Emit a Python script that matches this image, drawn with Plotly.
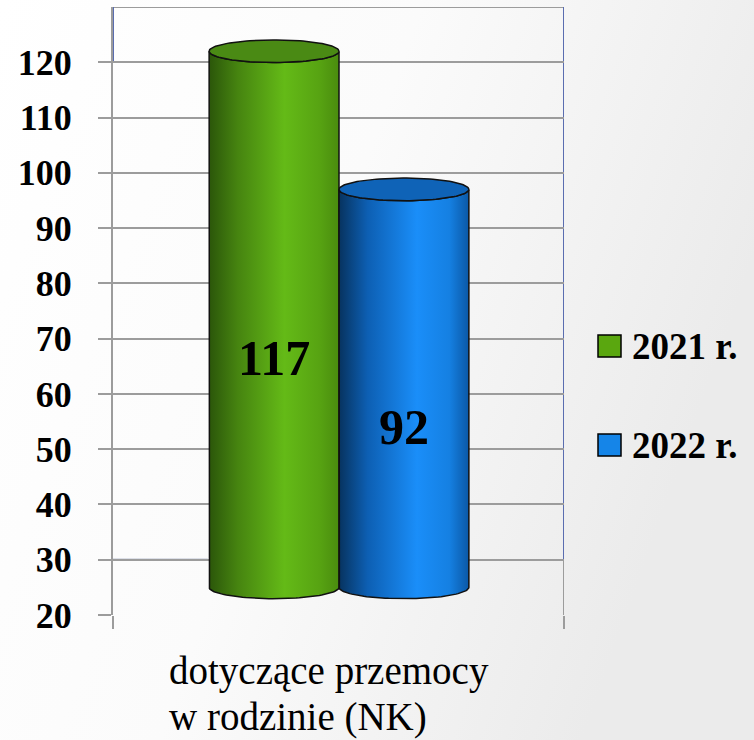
import base64
import numpy as np
import plotly.graph_objects as go

# ---------------- data ----------------
CATEGORY = ["dotyczące przemocy", "w rodzinie (NK)"]
SERIES = ["2021 r.", "2022 r."]
VALUES = [117, 92]
Y_TICKS = [20, 30, 40, 50, 60, 70, 80, 90, 100, 110, 120]

# ---------------- style ----------------
Y_MIN, Y_MAX = 20, 130
DEPTH = 5          # 3-D depth shift in value units
RY = 2.05          # ellipse half height (value units)
BAR_W = 0.288      # bar width in x units (x range 0..1)
CAT_X = 0.5011
SERIF = "Liberation Serif"
GREEN_SCALE = [[0, "#2b560a"], [0.22, "#468410"], [0.58, "#64ba17"],
               [0.85, "#57a312"], [1, "#4a8c0e"]]
BLUE_SCALE = [[0, "#07335f"], [0.22, "#0d5fb3"], [0.6, "#1a8ef9"],
              [0.85, "#1580e2"], [1, "#0b58a6"]]
TOP_COLORS = ["#4a8a14", "#0f63b7"]
LEGEND_COLORS = ["#5aa70f", "#1585e8"]
SCALES = [GREEN_SCALE, BLUE_SCALE]
GRID = "#9c9c9c"

fig = go.Figure()

centers = [CAT_X - BAR_W / 2, CAT_X + BAR_W / 2]
th_low = np.linspace(np.pi, 2 * np.pi, 60)
th_full = np.linspace(0, 2 * np.pi, 120)
for i, (name, v) in enumerate(zip(SERIES, VALUES)):
    c = centers[i]
    rx = BAR_W / 2
    yb = Y_MIN + DEPTH
    yt = v + DEPTH
    xs = [c - rx]
    ys = [yt]
    xs += list(c + rx * np.cos(th_low))
    ys += list(yb + RY * np.sin(th_low))
    xs += [c + rx]
    ys += [yt]
    xs += list(c + rx * np.cos(th_low[::-1]))
    ys += list(yt + RY * np.sin(th_low[::-1]))
    fig.add_trace(go.Scatter(
        x=xs, y=ys, mode="lines", fill="toself",
        fillgradient=dict(type="horizontal", colorscale=SCALES[i]),
        line=dict(color="#111111", width=1.5),
        name=name, showlegend=False, hoverinfo="skip"))
    fig.add_trace(go.Scatter(
        x=c + rx * np.cos(th_full), y=yt + RY * np.sin(th_full),
        mode="lines", fill="toself", fillcolor=TOP_COLORS[i],
        line=dict(color="#111111", width=1.5),
        showlegend=False, hoverinfo="skip"))
    fig.add_annotation(x=c, y=(Y_MIN + v) / 2 - 2, text=f"<b>{v}</b>",
                       showarrow=False, font=dict(family=SERIF, size=50, color="black"))

# background gradient (svg data uri)
svg = ('<svg xmlns="http://www.w3.org/2000/svg" width="754" height="740" '
       'preserveAspectRatio="none"><defs><linearGradient id="g" x1="0" y1="0" x2="1" y2="0.35">'
       '<stop offset="0" stop-color="#ffffff"/><stop offset="0.5" stop-color="#fbfbfb"/>'
       '<stop offset="1" stop-color="#ebebeb"/></linearGradient></defs>'
       '<rect width="754" height="740" fill="url(#g)"/></svg>')
uri = "data:image/svg+xml;base64," + base64.b64encode(svg.encode()).decode()
W_PLOT, H_PLOT = 451, 608
fig.add_layout_image(source=uri, xref="paper", yref="paper",
                     x=-113 / W_PLOT, y=1 + 7 / H_PLOT,
                     sizex=754 / W_PLOT, sizey=740 / H_PLOT,
                     sizing="stretch", xanchor="left", yanchor="top", layer="below")

# frame pieces (3-D walls)
BLUE_EDGE = "#5a6db0"
fig.add_shape(type="line", xref="x", yref="y", x0=0, x1=1, y0=Y_MAX, y1=Y_MAX,
              line=dict(color=GRID, width=2), layer="below")
fig.add_shape(type="line", xref="x", yref="y", x0=1, x1=1, y0=30, y1=Y_MAX,
              line=dict(color=BLUE_EDGE, width=2), layer="below")
fig.add_shape(type="line", xref="x", yref="y", x0=1, x1=1, y0=Y_MIN, y1=30,
              line=dict(color=GRID, width=2), layer="below")
fig.add_shape(type="line", xref="x", yref="y", x0=0, x1=0, y0=120, y1=Y_MAX,
              line=dict(color=BLUE_EDGE, width=2), layer="below")
fig.add_shape(type="line", xref="x", yref="y", x0=0, x1=0.21, y0=30, y1=30,
              line=dict(color="#7d86a8", width=2), layer="below")

# legend (manual)
leg_y = [346, 445]
for i, name in enumerate(SERIES):
    yc = (615 - leg_y[i]) / H_PLOT
    x0 = (598 - 113) / W_PLOT
    x1 = (621 - 113) / W_PLOT
    fig.add_shape(type="rect", xref="paper", yref="paper", x0=x0, x1=x1,
                  y0=yc - 11 / H_PLOT, y1=yc + 11 / H_PLOT,
                  fillcolor=LEGEND_COLORS[i], line=dict(color="black", width=1.5))
    fig.add_annotation(xref="paper", yref="paper", x=(630 - 113) / W_PLOT, y=yc,
                       xanchor="left", yanchor="middle", text=f"<b>{name}</b>",
                       showarrow=False, font=dict(family=SERIF, size=37, color="black"))

# category label (two left-aligned lines)
cat_y = [671, 717]
for j, line in enumerate(CATEGORY):
    fig.add_annotation(xref="paper", yref="paper", x=(167 - 113) / W_PLOT,
                       y=(615 - cat_y[j]) / H_PLOT, xanchor="left", yanchor="middle",
                       text=line, showarrow=False,
                       font=dict(family=SERIF, size=39, color="black"))

fig.update_layout(
    width=754, height=740,
    margin=dict(l=113, r=190, t=7, b=125),
    paper_bgcolor="white", plot_bgcolor="rgba(0,0,0,0)",
    showlegend=False,
    font=dict(family=SERIF),
    xaxis=dict(range=[0, 1], showgrid=False, zeroline=False,
               tickmode="array", tickvals=[], showticklabels=False,
               showline=False,
               minor=dict(tickmode="array", tickvals=[0, 1], ticks="outside",
                          ticklen=13, tickwidth=2, tickcolor=GRID, showgrid=False)),
    yaxis=dict(range=[Y_MIN, Y_MAX], tickmode="array", tickvals=Y_TICKS,
               ticktext=[f"<b>{t}</b>" for t in Y_TICKS],
               showgrid=True, gridcolor=GRID, gridwidth=2,
               zeroline=False, showline=True, linecolor=GRID, linewidth=2,
               ticks="outside", ticklen=13, tickwidth=2, tickcolor=GRID,
               ticklabelstandoff=19,
               tickfont=dict(family=SERIF, size=36, color="black")),
)

fig.write_html("out.html", config={"displayModeBar": False},
               post_script="document.body.style.margin='0';document.body.style.overflow='hidden';")
